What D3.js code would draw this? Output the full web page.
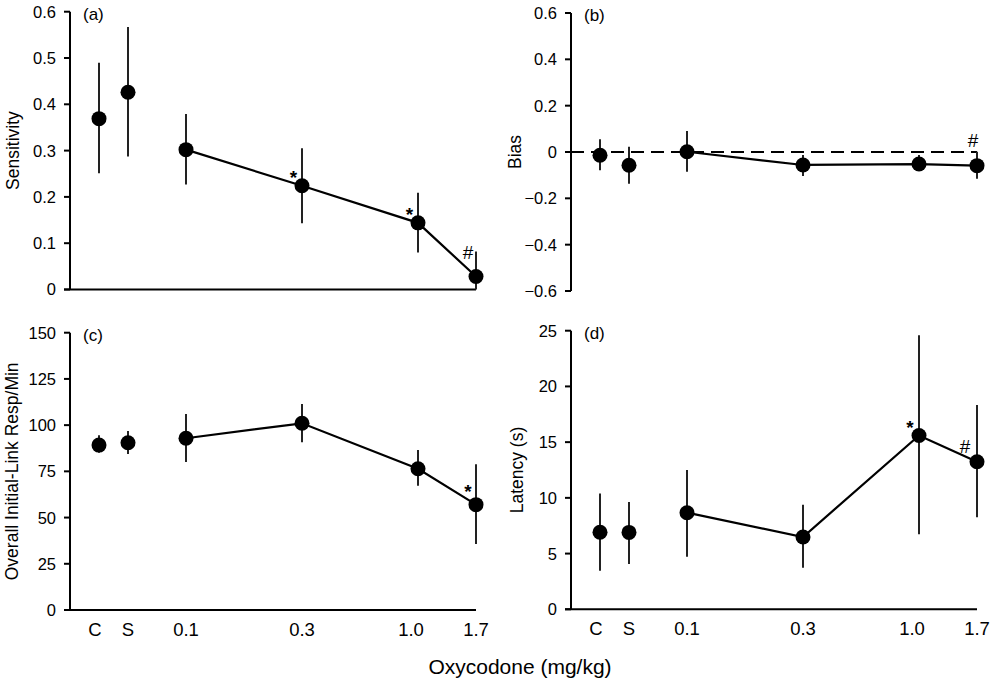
<!DOCTYPE html>
<html>
<head>
<meta charset="utf-8">
<title>Oxycodone panels</title>
<script src="https://d3js.org/d3.v7.min.js"></script>
<style>
  body { margin: 0; background: #fff; }
  text { font-family: "Liberation Sans", Arial, sans-serif; fill: #000; }
  .ytick-label { font-size: 16.5px; }
  .xtick-label { font-size: 18.5px; }
  .ytitle { font-size: 17.5px; }
  .plabel { font-size: 17px; }
  .sig { font-size: 19px; }
</style>
</head>
<body>
<script>

// doses along the x axis and where each sits on the axis (axis runs 0..14)
var doses = ["C", "S", "0.1", "0.3", "1.0", "1.7"];
var xSlot = [1, 2, 4, 8, 12, 14];

// (a) sensitivity
var sensMean = [0.369, 0.426, 0.302, 0.224, 0.144, 0.028];
var sensLo   = [0.251, 0.287, 0.227, 0.143, 0.080, 0.000];
var sensHi   = [0.490, 0.567, 0.379, 0.305, 0.209, 0.082];
var sensSig  = ["", "", "", "*", "*", "#"];
var sensTicks = [0, 0.1, 0.2, 0.3, 0.4, 0.5, 0.6];

// (b) bias
var biasMean = [-0.014, -0.057, 0.001, -0.056, -0.052, -0.059];
var biasLo   = [-0.079, -0.137, -0.085, -0.104, -0.082, -0.115];
var biasHi   = [0.055, 0.023, 0.091, -0.013, -0.013, 0.001];
var biasSig  = ["", "", "", "", "", "#"];
var biasTicks = [-0.6, -0.4, -0.2, 0, 0.2, 0.4, 0.6];

// (c) overall initial-link responses per minute
var rateMean = [89.2, 90.5, 92.9, 101.0, 76.4, 57.0];
var rateLo   = [85.1, 84.4, 80.0, 90.7, 67.2, 35.7];
var rateHi   = [94.5, 96.8, 106.0, 111.4, 86.5, 78.8];
var rateSig  = ["", "", "", "", "", "*"];
var rateTicks = [0, 25, 50, 75, 100, 125, 150];

// (d) latency
var latMean = [6.91, 6.90, 8.67, 6.49, 15.6, 13.24];
var latLo   = [3.46, 4.06, 4.72, 3.73, 6.73, 8.25];
var latHi   = [10.4, 9.62, 12.5, 9.38, 24.6, 18.33];
var latSig  = ["", "", "", "", "*", "#"];
var latTicks = [0, 5, 10, 15, 20, 25];

var svg = d3.select("body").append("svg")
    .attr("width", 990)
    .attr("height", 678);

function panel(opt) {
    var x = d3.scaleLinear().domain([0, 14]).range([opt.left, opt.left + 406]);
    var y = d3.scaleLinear().domain(opt.domain).range([opt.bottom, opt.top]);
    var g = svg.append("g");

    var rows = doses.map(function (d, i) {
        return { dose: d, x: xSlot[i], m: opt.mean[i], lo: opt.lo[i], hi: opt.hi[i], sig: opt.sig[i] };
    });

    // y axis
    g.append("line")
        .attr("x1", opt.left).attr("x2", opt.left)
        .attr("y1", y(opt.domain[0])).attr("y2", y(opt.domain[1]))
        .attr("stroke", "#000").attr("stroke-width", 2);
    g.selectAll(".ytick").data(opt.ticks).enter().append("line")
        .attr("x1", opt.left - 6).attr("x2", opt.left)
        .attr("y1", function (d) { return y(d); })
        .attr("y2", function (d) { return y(d); })
        .attr("stroke", "#000").attr("stroke-width", 2);
    g.selectAll(".ylab").data(opt.ticks).enter().append("text")
        .attr("class", "ytick-label")
        .attr("x", opt.left - 14)
        .attr("y", function (d) { return y(d); })
        .attr("dy", "0.36em")
        .attr("text-anchor", "end")
        .text(opt.fmt);

    // y title
    g.append("text")
        .attr("class", "ytitle")
        .attr("transform", "translate(" + opt.titleX + "," + ((opt.top + opt.bottom) / 2) + ") rotate(-90)")
        .attr("text-anchor", "middle")
        .attr("dy", "0.35em")
        .text(opt.title);

    // panel label
    g.append("text")
        .attr("class", "plabel")
        .attr("x", opt.left + 13)
        .attr("y", opt.top + 8)
        .text(opt.label);

    // x axis / zero line
    if (opt.zeroLine) {
        g.append("line")
            .attr("x1", opt.left).attr("x2", x(14))
            .attr("y1", y(0)).attr("y2", y(0))
            .attr("stroke", "#000").attr("stroke-width", 2)
            .attr("stroke-dasharray", "13,7");
    } else {
        g.append("line")
            .attr("x1", opt.left - 6).attr("x2", x(14))
            .attr("y1", y(opt.domain[0])).attr("y2", y(opt.domain[0]))
            .attr("stroke", "#000").attr("stroke-width", 2);
    }
    if (opt.xLabels) {
        g.selectAll(".xlab").data(rows).enter().append("text")
            .attr("class", "xtick-label")
            .attr("x", function (d) { return x(d.x) - (d.dose === "1.0" ? 7 : (d.dose === "C" ? 4 : 0)); })
            .attr("y", opt.bottom + 26)
            .attr("text-anchor", "middle")
            .text(function (d) { return d.dose; });
    }

    // error bars
    g.selectAll(".err").data(rows).enter().append("line")
        .attr("x1", function (d) { return x(d.x); })
        .attr("x2", function (d) { return x(d.x); })
        .attr("y1", function (d) { return y(d.lo); })
        .attr("y2", function (d) { return y(d.hi); })
        .attr("stroke", "#222").attr("stroke-width", 2);

    // line through the oxycodone doses only
    var line = d3.line()
        .x(function (d) { return x(d.x); })
        .y(function (d) { return y(d.m); });
    g.append("path")
        .datum(rows.slice(2))
        .attr("d", line)
        .attr("fill", "none")
        .attr("stroke", "#000")
        .attr("stroke-width", 2.2);

    g.selectAll("circle").data(rows).enter().append("circle")
        .attr("cx", function (d) { return x(d.x); })
        .attr("cy", function (d) { return y(d.m); })
        .attr("r", 7.5)
        .attr("fill", "#000");

    // significance marks
    g.selectAll(".sig").data(rows.filter(function (d) { return d.sig; })).enter().append("text")
        .attr("class", "sig")
        .attr("x", function (d) { return x(d.x) + (d.sig === "*" ? opt.starDx : opt.hashDx); })
        .attr("y", function (d) {
            var base = opt.zeroLine ? y(0) : y(d.m);
            return base + (d.sig === "*" ? opt.starDy : opt.hashDy);
        })
        .attr("text-anchor", "middle")
        .style("font-weight", function (d) { return d.sig === "*" ? "bold" : "normal"; })
        .text(function (d) { return d.sig; });
}

var f1 = function (d) { return d === 0 ? "0" : d3.format(".1f")(d); };
var f0 = function (d) { return d; };

panel({ left: 70, top: 11.7, bottom: 289.5, domain: [0, 0.6], ticks: sensTicks, fmt: f1,
        mean: sensMean, lo: sensLo, hi: sensHi, sig: sensSig,
        starDx: -8.5, starDy: -2, hashDx: -8, hashDy: -18,
        title: "Sensitivity", titleX: 13, label: "(a)" });
panel({ left: 571, top: 13, bottom: 291, domain: [-0.6, 0.6], ticks: biasTicks, fmt: f1,
        mean: biasMean, lo: biasLo, hi: biasHi, sig: biasSig, zeroLine: true,
        starDx: 0, starDy: 0, hashDx: -4, hashDy: -5,
        title: "Bias", titleX: 515, label: "(b)" });
panel({ left: 70, top: 332.7, bottom: 610, domain: [0, 150], ticks: rateTicks, fmt: f0,
        mean: rateMean, lo: rateLo, hi: rateHi, sig: rateSig, xLabels: true,
        starDx: -8, starDy: -7, hashDx: 0, hashDy: 0,
        title: "Overall Initial-Link Resp/Min", titleX: 12, label: "(c)" });
panel({ left: 571, top: 330.7, bottom: 609.3, domain: [0, 25], ticks: latTicks, fmt: f0,
        mean: latMean, lo: latLo, hi: latHi, sig: latSig, xLabels: true,
        starDx: -9, starDy: -1, hashDx: -12, hashDy: -9,
        title: "Latency (s)", titleX: 517, label: "(d)" });

svg.append("text")
    .attr("x", 520)
    .attr("y", 674)
    .attr("text-anchor", "middle")
    .style("font-size", "21px")
    .text("Oxycodone (mg/kg)");

</script>
</body>
</html>
